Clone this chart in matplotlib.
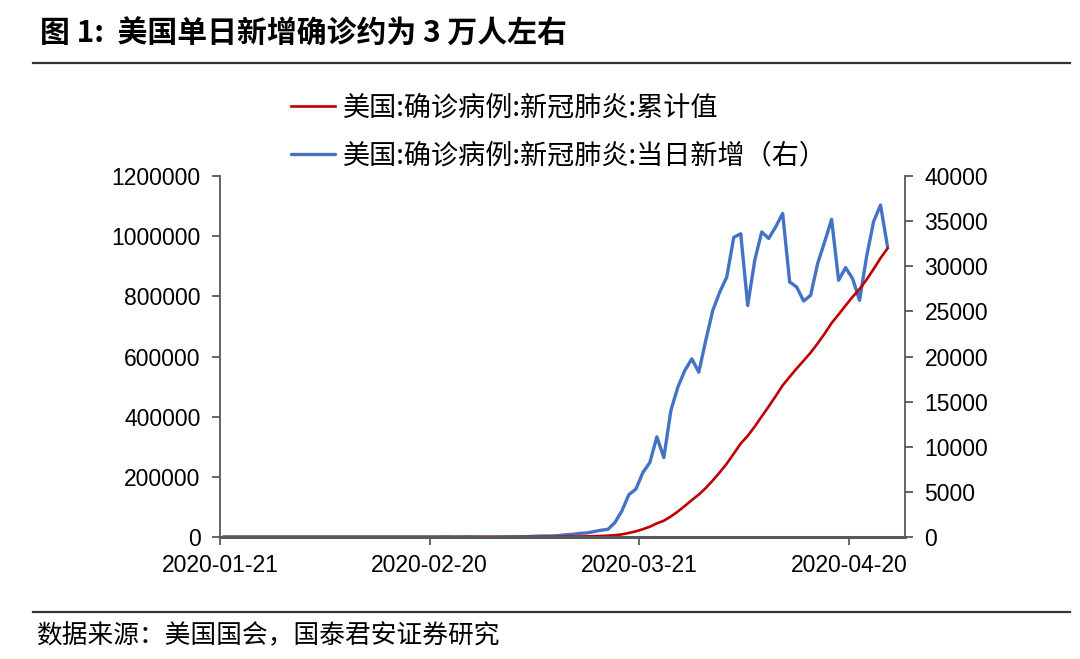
import matplotlib
matplotlib.use("Agg")
import matplotlib.pyplot as plt
import matplotlib.dates as mdates
import matplotlib.ticker as mticker
import numpy as np
import pandas as pd

# === Data ===
start_date = "2020-01-21"
# daily new cases, 2020-01-21 .. 2020-04-25
daily_new = [
    1, 0, 0, 1, 1, 2, 0, 0, 0, 1, 1,                      # Jan 21-31
    1, 3, 0, 0, 1, 0, 0, 0, 0, 1, 0, 1, 0, 0, 0, 0, 0,    # Feb 1-17
    0, 1, 0, 0, 20, 0, 0, 18, 4, 3, 0, 8,                 # Feb 18-29
    7, 25, 25, 35, 60, 100, 110, 110, 160, 250,           # Mar 1-10
    300, 400, 450, 600, 750, 850, 1600, 2900, 4700, 5300,  # Mar 11-20
    7150, 8260, 11100, 8800, 14000, 16600, 18450, 19740, 18260, 21800,  # Mar 21-30
    25100, 27150, 28800, 33200, 33600, 25650, 30650, 33800, 33080, 34370,  # Mar 31-Apr 9
    35850, 28260, 27700, 26150, 26780, 30300, 32700, 35190, 28450, 29850,  # Apr 10-19
    28630, 26230, 31040, 34930, 36780, 32150,             # Apr 20-25
]
# cumulative confirmed cases, same dates
cumulative = [
    1, 1, 1, 2, 3, 5, 5, 5, 5, 6, 7,
    8, 11, 11, 11, 12, 12, 12, 12, 12, 13, 13, 14, 14, 14, 14, 14, 14,
    14, 15, 15, 15, 35, 35, 35, 53, 57, 60, 60, 68,
    75, 100, 125, 160, 220, 320, 430, 540, 700, 950,
    1250, 1650, 2100, 2700, 3450, 4300, 5900, 8800, 13500, 18800,
    26000, 34200, 45300, 54100, 68100, 84700, 103100, 122800, 141100, 162900,
    188000, 215100, 243900, 277100, 310700, 336300, 367000, 400800, 433900, 468300,
    504100, 532400, 560100, 586200, 613000, 643300, 676000, 711200, 739600, 769500,
    798100, 824400, 855400, 890300, 927100, 959200,
]
date_ticks = ["2020-01-21", "2020-02-20", "2020-03-21", "2020-04-20"]
label_cum = "美国:确诊病例:新冠肺炎:累计值"
label_new = "美国:确诊病例:新冠肺炎:当日新增（右）"
title = "图 1:  美国单日新增确诊约为 3 万人左右"
source = "数据来源：美国国会，国泰君安证券研究"

dates = pd.date_range(start_date, periods=len(daily_new), freq="D")
xpos = dates + pd.Timedelta(hours=12)

CJK = ["Noto Sans CJK SC", "DejaVu Sans"]
plt.rcParams["font.family"] = ["Liberation Sans", "Noto Sans CJK SC", "DejaVu Sans"]

fig = plt.figure(figsize=(10.8, 6.59), dpi=100)
ax = fig.add_axes([220 / 1080, 122 / 659, 685 / 1080, 361 / 659])
ax2 = ax.twinx()
ax.set_zorder(ax2.get_zorder() + 1)
ax.patch.set_visible(False)

l2, = ax2.plot(xpos, daily_new, color="#4472C4", lw=2.4, solid_capstyle="round")
l1, = ax.plot(xpos, cumulative, color="#C00000", lw=1.9)

ax.set_ylim(0, 1200000)
ax2.set_ylim(0, 40000)
ax.set_yticks(np.arange(0, 1200001, 200000))
ax2.set_yticks(np.arange(0, 40001, 5000))
ax.yaxis.set_major_formatter(mticker.FuncFormatter(lambda v, p: f"{int(v)}"))
ax2.yaxis.set_major_formatter(mticker.FuncFormatter(lambda v, p: f"{int(v)}"))
ax.set_xlim(pd.Timestamp("2020-01-21"), pd.Timestamp("2020-04-28"))
ax.set_xticks(pd.to_datetime(date_ticks))
ax.xaxis.set_major_formatter(mdates.DateFormatter("%Y-%m-%d"))

spine_col = "#595959"
for a in (ax, ax2):
    for s in a.spines.values():
        s.set_color(spine_col)
        s.set_linewidth(1.3)
    a.spines["top"].set_visible(False)
    a.tick_params(colors=spine_col, labelcolor="black", labelsize=16.5,
                  length=6, width=1.3)
ax.spines["right"].set_visible(False)
ax2.spines["left"].set_visible(False)
ax.spines["bottom"].set_linewidth(2.2)
ax.tick_params(axis="y", pad=8)
ax2.tick_params(axis="y", pad=8)
ax.tick_params(axis="x", pad=6)

fig.legend([l1, l2], [label_cum, label_new], loc="center left",
           bbox_to_anchor=(277 / 1080, 1 - 132 / 659), frameon=False,
           prop={"family": CJK, "size": 19.5}, handlelength=1.65,
           handletextpad=0.3, labelspacing=0.8, borderpad=0)

fig.text(40 / 1080, 1 - 34 / 659, title, fontsize=21.5, fontweight="bold",
         family=CJK, va="center", ha="left")
fig.text(36 / 1080, 1 - 636 / 659, source, fontsize=18.5, family=CJK,
         va="center", ha="left")
fig.add_artist(plt.Line2D([33 / 1080, 1070 / 1080], [1 - 63 / 659] * 2,
                          color="#333333", lw=1.6))
fig.add_artist(plt.Line2D([33 / 1080, 1070 / 1080], [1 - 612 / 659] * 2,
                          color="#333333", lw=1.6))

fig.savefig("out.png", dpi=100)
